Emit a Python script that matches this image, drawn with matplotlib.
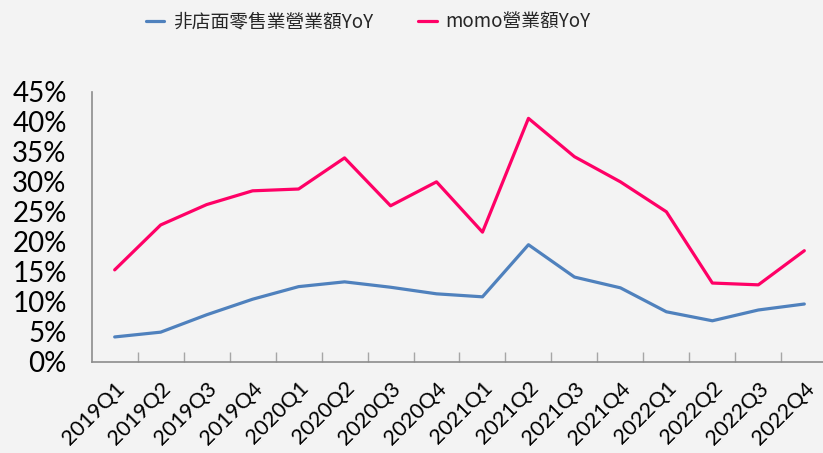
import matplotlib
matplotlib.use("Agg")
import matplotlib.pyplot as plt
from matplotlib.ticker import FixedLocator, FuncFormatter

categories = ["2019Q1", "2019Q2", "2019Q3", "2019Q4",
              "2020Q1", "2020Q2", "2020Q3", "2020Q4",
              "2021Q1", "2021Q2", "2021Q3", "2021Q4",
              "2022Q1", "2022Q2", "2022Q3", "2022Q4"]
nonstore_yoy = [4.1, 4.9, 7.8, 10.4, 12.5, 13.3, 12.4, 11.3,
                10.8, 19.5, 14.1, 12.3, 8.3, 6.8, 8.6, 9.6]
momo_yoy = [15.3, 22.8, 26.2, 28.5, 28.8, 34.0, 26.0, 30.0,
            21.6, 40.6, 34.2, 30.0, 25.0, 13.1, 12.8, 18.5]
series_names = ["非店面零售業營業額YoY", "momo營業額YoY"]
yticks = [0, 5, 10, 15, 20, 25, 30, 35, 40, 45]

plt.rcParams['font.family'] = ['Lato', 'DejaVu Sans', 'Noto Sans CJK TC']

W, H = 823, 453
fig = plt.figure(figsize=(W / 100, H / 100), dpi=100)
bg = '#f3f3f3'
fig.patch.set_facecolor(bg)
left, right = 91.7, 827.3
bottom, top = 361.5, 92
ax = fig.add_axes([left / W, (H - bottom) / H, (right - left) / W, (bottom - top) / H])
ax.set_facecolor(bg)

x = list(range(len(categories)))
l1, = ax.plot(x, nonstore_yoy, color='#4f81bd', lw=2.3, solid_capstyle='round',
              label=series_names[0])
l2, = ax.plot(x, momo_yoy, color='#ff0066', lw=2.3, solid_capstyle='round',
              label=series_names[1])

ax.set_xlim(-0.5, len(categories) - 0.5)
ax.set_ylim(0, 45)
ax.set_yticks(yticks)
ax.yaxis.set_major_formatter(FuncFormatter(lambda v, p: f"{int(v)}%"))
ax.tick_params(axis='y', length=0, labelsize=20, pad=18, labelcolor='black')

ax.set_xticks(x)
ax.set_xticklabels(categories, rotation=45, ha='right', rotation_mode='anchor')
ax.xaxis.set_minor_locator(FixedLocator([i + 0.5 for i in x]))
ax.tick_params(axis='x', which='major', length=0, labelsize=15.5, pad=12)
ax.tick_params(axis='x', which='minor', length=7, direction='in', color='#a6a6a6', width=1)

for s in ['top', 'right']:
    ax.spines[s].set_visible(False)
for s in ['left', 'bottom']:
    ax.spines[s].set_color('#8c8c8c')
    ax.spines[s].set_linewidth(1.2)

leg = fig.legend(handles=[l1, l2], loc='center', bbox_to_anchor=(368 / W, (H - 22) / H),
                 ncol=2, frameon=False, handlelength=1.0, columnspacing=2.4, handletextpad=0.45,
                 prop={'family': ['Noto Sans CJK TC', 'DejaVu Sans'], 'size': 13.5})
for t in leg.get_texts():
    t.set_color('#262626')

fig.savefig('out.png', dpi=100, facecolor=bg)
